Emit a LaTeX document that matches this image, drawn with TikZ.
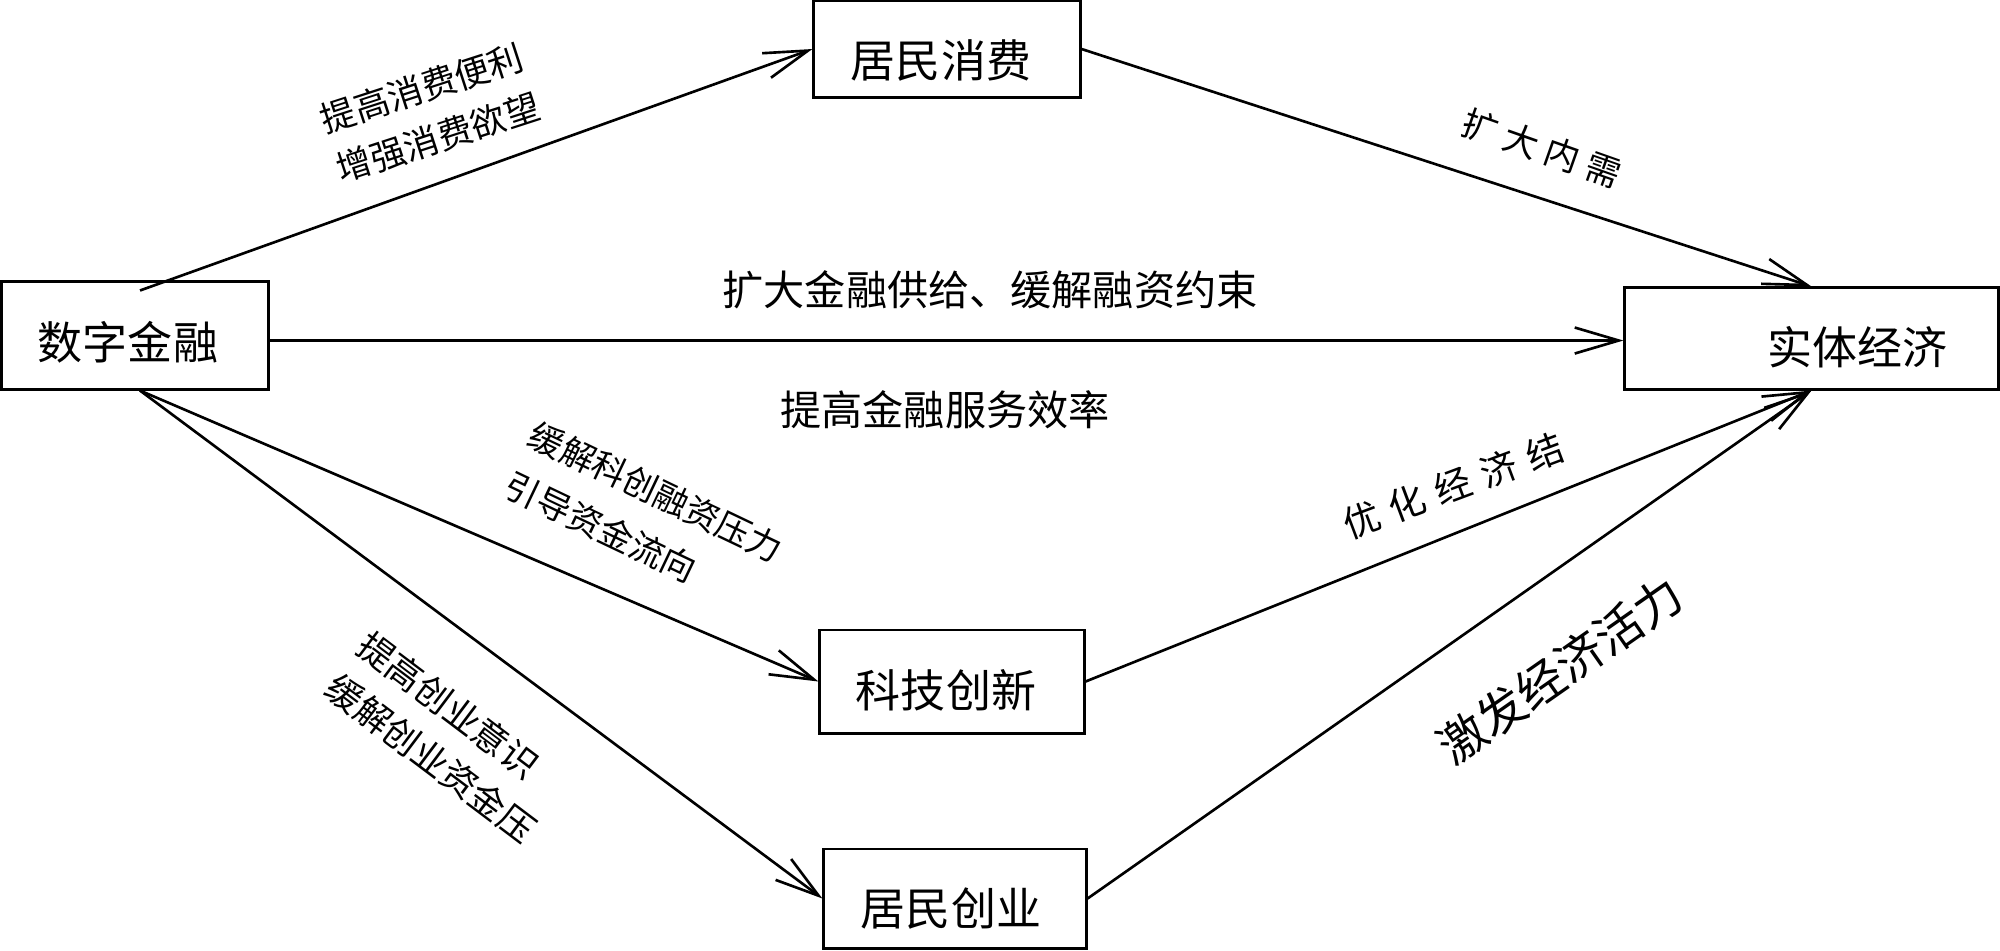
\documentclass[tikz,border=0pt]{standalone}
\usepackage{fontspec}
\setmainfont{Noto Sans CJK SC}
\usetikzlibrary{arrows.meta}
\begin{document}
\begin{tikzpicture}[x=0.01cm,y=-0.01cm,
  box/.style={draw,line width=0.85pt,inner sep=0pt,text depth=0pt,font=\fontsize{12.8}{14}\selectfont},
  arr/.style={line width=0.75pt,-{Straight Barb[length=0.44cm,width=0.26cm]}},
  lbl/.style={inner sep=0pt,font=\fontsize{11.7}{14}\selectfont},
  slbl/.style={inner sep=0pt,font=\fontsize{10}{14.8}\selectfont}]
\useasboundingbox (0,0) rectangle (2000,950);
% boxes
\node[box,minimum width=2.66cm,minimum height=1.07cm,text height=0.47cm] (A) at (135,335.5) {数字金融\hspace*{0.14cm}};
\node[box,minimum width=2.66cm,minimum height=0.96cm,text height=0.56cm] (B) at (947,49) {居民消费\hspace*{0.12cm}};
\node[box,minimum width=3.73cm,minimum height=1.01cm,text height=0.51cm] (C) at (1811.5,338.5) {\hspace*{0.92cm}实体经济};
\node[box,minimum width=2.64cm,minimum height=1.03cm,text height=0.51cm] (D) at (952,681.5) {科技创新\hspace*{0.12cm}};
\node[box,minimum width=2.62cm,minimum height=0.99cm,text height=0.54cm] (E) at (955,898.5) {居民创业\hspace*{0.08cm}};
% connectors
\draw[arr] ([shift={(0.05cm,-0.1cm)}]A.north) -- (B.west);
\draw[arr] (B.east) -- (C.north);
\draw[arr] ([yshift=-0.05cm]A.east) -- ([yshift=-0.02cm]C.west);
\draw[arr] ([xshift=0.05cm]A.south) -- (D.west);
\draw[arr] ([xshift=0.05cm]A.south) -- (E.west);
\draw[arr] (D.east) -- (C.south);
\draw[arr] (E.east) -- (C.south);
% labels
\node[lbl] (l1) at (990,290) {扩大金融供给、缓解融资约束};
\node[lbl] (l2) at (945,410) {提高金融服务效率};
\node[slbl,align=center,rotate=18] (l3) at (430,113) {提高消费便利\\增强消费欲望};
\node[slbl,rotate=-19.4] (l4) at (1542,148) {扩\kern0.08cm 大\kern0.08cm 内\kern0.08cm 需};
\node[slbl,align=left,rotate=-25.5,font=\fontsize{9.8}{15.9}\selectfont] (l5) at (644,517) {缓解科创融资压力\\引导资金流向};
\node[slbl,align=left,rotate=-37,font=\fontsize{10.2}{15}\selectfont] (l6) at (447,737) {提高创业意识\\缓解创业资金压};
\node[slbl,rotate=20.5,font=\fontsize{10.5}{14}\selectfont] (l7) at (1453,486) {优\kern0.12cm 化\kern0.12cm 经\kern0.12cm 济\kern0.12cm 结};
\node[slbl,rotate=35,font=\fontsize{13.5}{16}\selectfont] (l8) at (1560,670) {激发经济活力};
\end{tikzpicture}
\end{document}
